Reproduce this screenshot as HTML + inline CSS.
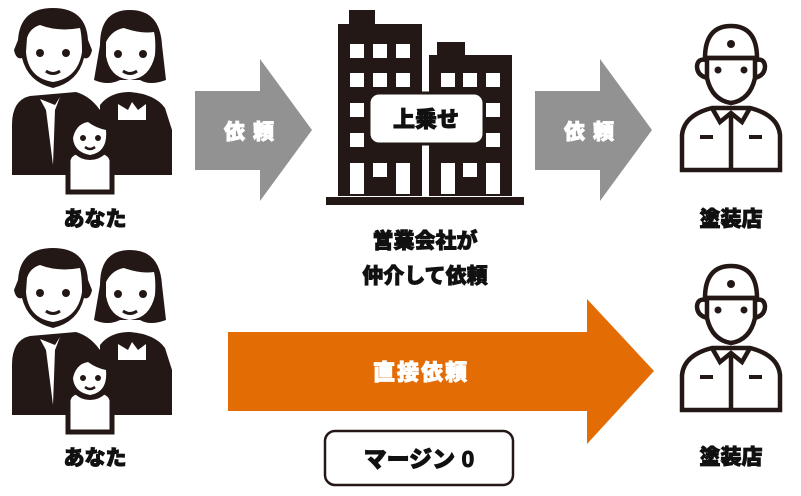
<!DOCTYPE html>
<html><head><meta charset="utf-8"><style>
html,body{margin:0;padding:0;background:#fff;}
svg{display:block;}
text{font-family:"Liberation Sans","Noto Sans CJK JP",sans-serif;font-weight:900;stroke-width:0.9;}
</style></head><body>
<svg width="801" height="496" viewBox="0 0 801 496" xmlns="http://www.w3.org/2000/svg">
<defs>
<g id="fam">
  <path d="M18 40 Q20 8 53 8 Q86 8 88 40 L92 50 Q90 60 84 58 Q78 82 53 88 Q28 82 22 58 Q16 60 14 50 Z" fill="#231815"/>
  <path d="M27 38 Q30 28 40 25 Q58 32 80 28 Q82 36 82 52 Q78 78 53 82 Q28 78 26 52 Z" fill="#fff"/>
  <circle cx="40" cy="53" r="4" fill="#231815"/><circle cx="66" cy="53" r="4" fill="#231815"/>
  <path d="M46 71 Q53 76 60 71" stroke="#231815" stroke-width="3" fill="none"/>
  <path d="M12 125 Q12 100 30 96 L76 92 Q90 96 100 110 L100 175 L12 175 Z" fill="#231815"/>
  <path d="M40 99 L55 105 L60 97 L55 110 L53 165 L46 110 Z" fill="#fff"/>
  <path d="M100 45 Q100 10 130 10 Q160 10 162 45 L166 80 Q150 86 140 80 L120 80 Q108 86 94 80 Z" fill="#231815"/>
  <path d="M106 42 Q112 30 124 28 Q140 34 154 32 Q156 40 155 55 Q150 78 130 80 Q110 78 106 56 Z" fill="#fff"/>
  <circle cx="118" cy="54" r="4" fill="#231815"/><circle cx="143" cy="54" r="4" fill="#231815"/>
  <path d="M123 71 Q130 76 137 71" stroke="#231815" stroke-width="3" fill="none"/>
  <path d="M100 105 Q110 92 130 92 Q155 94 165 108 L172 130 L172 175 L100 175 Z" fill="#231815"/>
  <path d="M118 104 L128 110 L132 102 L138 110 L146 104 L146 120 L118 120 Z" fill="#fff"/>
  <path d="M68 192 L68 160 Q70 150 90 150 Q110 150 112 160 L112 192 Z" fill="#fff" stroke="#231815" stroke-width="5"/>
  <circle cx="90" cy="138" r="22" fill="#231815"/>
  <path d="M73 138 Q76 124 88 122 Q96 128 106 130 Q108 152 90 155 Q74 152 73 138Z" fill="#fff"/>
  <circle cx="83" cy="138" r="3" fill="#231815"/><circle cx="98" cy="138" r="3" fill="#231815"/>
  <path d="M85 147 Q90 151 95 147" stroke="#231815" stroke-width="2.5" fill="none"/>
</g>
<g id="wk" fill="none" stroke="#231815" stroke-width="4.5">
  <path d="M705 58 Q705 26 731 26 Q757 26 757 58 Z"/>
  <line x1="703" y1="58" x2="759" y2="58"/>
  <path d="M706 60 Q698 58 697 66 Q697 76 708 78"/>
  <path d="M756 60 Q764 58 765 66 Q765 76 754 78"/>
  <path d="M707 60 L707 78 Q712 100 731 103 Q750 100 755 78 L755 60"/>
  <path d="M682 170 L682 135 Q684 115 712 108 L750 108 Q778 115 780 135 L780 170 Z"/>
  <path d="M712 108 L720 122 L731 113 L742 122 L750 108"/>
  <line x1="731" y1="113" x2="731" y2="170"/>
</g>
<g id="wkf" fill="#231815">
  <circle cx="731" cy="44" r="4"/><circle cx="718" cy="70" r="3.5"/><circle cx="744" cy="70" r="3.5"/>
  <rect x="700" y="135" width="13" height="4"/><rect x="749" y="135" width="13" height="4"/>
</g>
</defs>
<use href="#fam" x="0" y="0"/>
<use href="#fam" x="0" y="240"/>
<text x="95" y="226" font-size="21" text-anchor="middle" fill="#111" stroke="#111">あなた</text>
<text x="95" y="465" font-size="21" text-anchor="middle" fill="#111" stroke="#111">あなた</text>

<polygon points="195,91 260,91 260,59 312,130 260,201 260,170 195,170" fill="#929292"/>
<text x="253" y="139" font-size="21" text-anchor="middle" fill="#fff" stroke="#fff" letter-spacing="8">依頼</text>
<polygon points="535,91 600,91 600,59 652,130 600,201 600,170 535,170" fill="#929292"/>
<text x="593" y="139" font-size="21" text-anchor="middle" fill="#fff" stroke="#fff" letter-spacing="8">依頼</text>

<g fill="#231815">
  <rect x="349" y="10" width="26" height="16"/>
  <rect x="338" y="24" width="84" height="172"/>
  <rect x="437" y="42" width="28" height="15"/>
  <rect x="429" y="55" width="83" height="141"/>
  <rect x="326" y="197" width="198" height="8"/>
</g>
<g fill="#fff">
  <rect x="350" y="44" width="14" height="14"/><rect x="373" y="44" width="14" height="14"/><rect x="396" y="44" width="14" height="14"/>
  <rect x="350" y="73" width="14" height="14"/><rect x="373" y="73" width="14" height="14"/><rect x="396" y="73" width="14" height="14"/>
  <rect x="350" y="103" width="14" height="14"/>
  <rect x="350" y="133" width="14" height="14"/>
  <rect x="350" y="163" width="14" height="31"/><rect x="373" y="163" width="14" height="14"/><rect x="396" y="163" width="14" height="31"/>
  <rect x="441" y="73" width="14" height="14"/><rect x="463" y="73" width="14" height="14"/><rect x="486" y="73" width="14" height="14"/>
  <rect x="486" y="103" width="14" height="14"/>
  <rect x="486" y="133" width="14" height="14"/>
  <rect x="441" y="163" width="14" height="31"/><rect x="463" y="163" width="14" height="14"/><rect x="486" y="163" width="14" height="31"/>
</g>
<rect x="369" y="93" width="115" height="51" rx="10" fill="#fff" stroke="#231815" stroke-width="3"/>
<text x="426" y="127" font-size="22" text-anchor="middle" fill="#111" stroke="#111">上乗せ</text>
<text x="425" y="248" font-size="21" text-anchor="middle" fill="#111" stroke="#111">営業会社が</text>
<text x="425" y="283" font-size="21" text-anchor="middle" fill="#111" stroke="#111">仲介して依頼</text>

<use href="#wk"/><use href="#wkf"/>
<use href="#wk" y="240"/><use href="#wkf" y="240"/>
<text x="731" y="226" font-size="21" text-anchor="middle" fill="#111" stroke="#111">塗装店</text>
<text x="731" y="464" font-size="21" text-anchor="middle" fill="#111" stroke="#111">塗装店</text>

<polygon points="228,332 587,332 587,299 654,371 587,444 587,411 228,411" fill="#e36c04"/>
<text x="421" y="380" font-size="22" text-anchor="middle" fill="#fff" stroke="#fff" letter-spacing="2">直接依頼</text>
<rect x="325" y="431" width="188" height="54" rx="10" fill="#fff" stroke="#231815" stroke-width="2.5"/>
<text x="419" y="467" font-size="23" text-anchor="middle" fill="#111" stroke="#111">マージン 0</text>
</svg>
</body></html>
